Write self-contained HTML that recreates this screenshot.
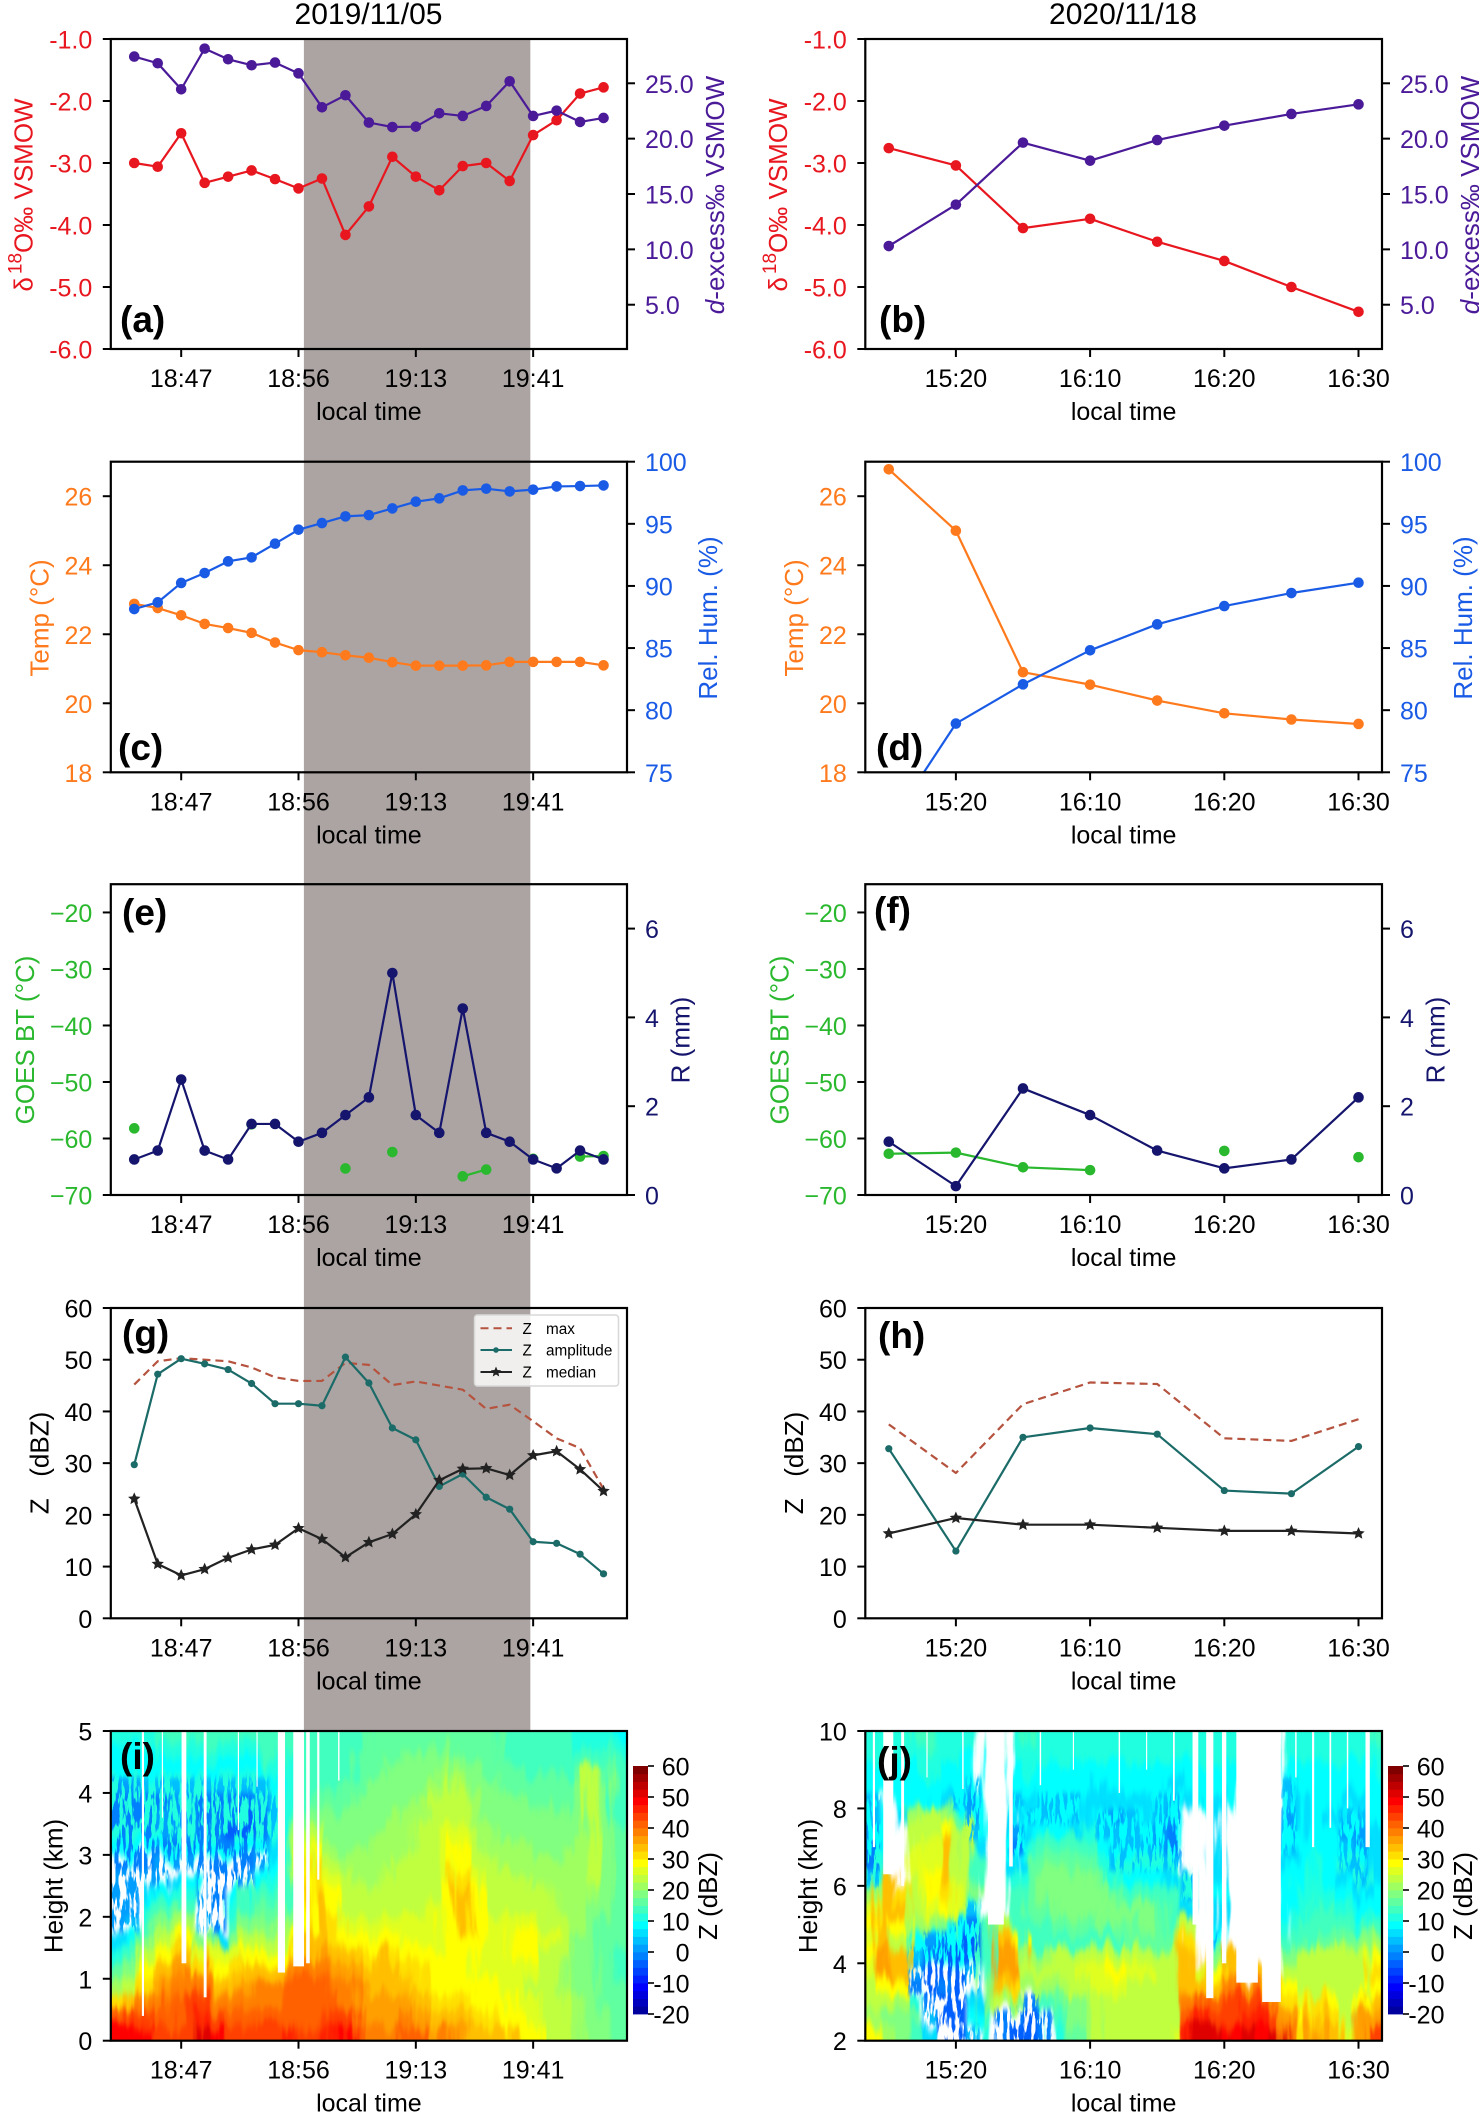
<!DOCTYPE html>
<html lang="en">
<head>
<meta charset="utf-8">
<title>Radar and isotope time series, 2019/11/05 and 2020/11/18</title>
<style>
html,body{margin:0;padding:0;background:#fff;}
svg{display:block;font-family:"Liberation Sans",Arial,sans-serif;}
</style>
</head>
<body>
<svg id="figure" xmlns="http://www.w3.org/2000/svg" width="1479" height="2113" viewBox="0 0 1479 2113">
  <rect x="0" y="0" width="1479" height="2113" fill="#fff"/>
  <text x="368.5" y="24" font-size="30" text-anchor="middle" fill="#000">2019/11/05</text>
  <text x="1123" y="24" font-size="30" text-anchor="middle" fill="#000">2020/11/18</text>
</svg>
<script>
/* ---------- category axes ---------- */
const ticksLeft = [2, 7, 12, 17];
const tickLabelsLeft = ["18:47", "18:56", "19:13", "19:41"];
const ticksRight = [1, 3, 5, 7];
const tickLabelsRight = ["15:20", "16:10", "16:20", "16:30"];
const shadedInterval = [7.23, 16.88];

/* ---------- series, event 2019/11/05 ---------- */
const d18oLeft = [-3.0,-3.06,-2.52,-3.32,-3.22,-3.12,-3.26,-3.41,-3.25,-4.16,-3.70,-2.90,-3.22,-3.44,-3.05,-3.0,-3.29,-2.55,-2.31,-1.88,-1.78];
const dexLeft = [27.41,26.81,24.46,28.13,27.17,26.63,26.87,25.9,22.83,23.92,21.45,21.05,21.08,22.29,22.05,22.95,25.18,22.05,22.53,21.51,21.87];
const tempLeft = [22.88,22.76,22.55,22.3,22.18,22.04,21.76,21.54,21.48,21.39,21.32,21.19,21.09,21.09,21.09,21.1,21.2,21.2,21.2,21.2,21.1];
const rhLeft = [88.14,88.68,90.24,91.04,91.98,92.3,93.4,94.53,95.06,95.6,95.7,96.24,96.78,97.05,97.69,97.83,97.61,97.75,98.01,98.04,98.09];
const goesLeft = [-58.2,null,null,null,null,-57.5,null,null,null,-65.3,null,-62.4,null,null,-66.7,-65.5,null,-63.6,null,-63.2,-63.1];
const rainLeft = [0.8,1.0,2.6,1.0,0.8,1.6,1.6,1.2,1.4,1.8,2.2,5.0,1.8,1.4,4.2,1.4,1.2,0.8,0.6,1.0,0.8];
const zMaxLeft = [45.2,49.7,50.3,50.0,49.7,48.5,46.6,45.9,45.9,49.4,49.0,45.1,45.8,45.0,44.2,40.5,41.3,38.1,34.8,32.9,25.0];
const zAmpLeft = [29.7,47.2,50.2,49.2,48.1,45.4,41.5,41.5,41.1,50.5,45.5,36.8,34.5,25.5,27.9,23.4,21.1,14.8,14.5,12.4,8.6];
const zMedLeft = [23.1,10.5,8.3,9.5,11.7,13.3,14.2,17.4,15.3,11.8,14.7,16.3,20.1,26.7,28.9,29.0,27.7,31.5,32.3,28.8,24.6];

/* ---------- series, event 2020/11/18 ---------- */
const d18oRight = [-2.76,-3.04,-4.05,-3.90,-4.27,-4.58,-5.0,-5.40];
const dexRight = [10.30,14.04,19.64,18.01,19.87,21.17,22.23,23.10];
const tempRight = [26.78,25.0,20.9,20.54,20.08,19.71,19.53,19.4];
const rhRight = [70.7,78.92,82.08,84.82,86.91,88.38,89.43,90.26];
const goesRight = [-62.7,-62.5,-65.1,-65.6,null,-62.2,null,-63.3];
const rainRight = [1.2,0.2,2.4,1.8,1.0,0.6,0.8,2.2];
const zMaxRight = [37.5,28.1,41.4,45.6,45.3,34.8,34.3,38.5];
const zAmpRight = [32.8,13.0,35.0,36.8,35.6,24.7,24.1,33.2];
const zMedRight = [16.4,19.4,18.1,18.1,17.5,16.9,16.9,16.4];

/* ---------- axis tick values ---------- */
const d18oTicks = [-1,-2,-3,-4,-5,-6];
const dexTicks = [5,10,15,20,25];
const tempTicks = [18,20,22,24,26];
const rhTicks = [75,80,85,90,95,100];
const goesTicks = [-20,-30,-40,-50,-60,-70];
const rainTicks = [0,2,4,6];
const zTicks = [0,10,20,30,40,50,60];
const heightTicksLeft = [0,1,2,3,4,5];
const heightTicksRight = [2,4,6,8,10];
const colorbarTicks = [-20,-10,0,10,20,30,40,50,60];

/* ---------- reflectivity grids (dBZ), top row = top of the height axis ---------- */
const n = null;
const heatLeft = [
[12,12,13,14,14,14,14,14,15,15,15,15,14,15,15,16,16,16,17,17,17,17,17,17,17,17,17,16,16,15,15,14,13,12,12,10],
[11,11,11,12,12,12,12,12,12,12,13,14,13,15,15,15,16,17,17,18,19,19,19,19,18,18,17,16,16,15,15,14,14,16,15,12],
[9,9,10,10,10,10,10,10,10,11,11,12,13,14,14,15,16,17,18,19,20,21,21,22,21,20,18,17,17,16,16,16,18,24,18,14],
[3,3,4,4,6,5,4,6,6,6,6,10,13,15,15,16,17,18,19,20,20,21,22,25,23,21,19,18,18,17,17,17,20,26,20,15],
[0,0,1,1,3,3,1,0,1,0,2,6,12,16,17,18,18,19,20,20,21,22,24,26,24,22,20,19,19,18,18,18,21,25,20,16],
[0,0,0,2,2,2,1,-1,-1,-2,1,6,12,18,20,19,19,20,21,21,22,22,24,26,26,23,21,20,20,19,19,19,21,24,20,16],
[0,0,1,2,2,2,1,-1,-2,-3,1,6,12,22,26,21,20,21,21,22,22,24,25,27,28,24,22,21,21,20,20,20,21,24,20,17],
[0,1,1,1,1,1,1,0,-1,0,2,7,12,26,30,23,21,21,22,23,23,25,26,27,29,25,23,22,22,21,21,21,22,25,21,17],
[1,1,1,2,3,2,1,0,1,1,3,10,12,28,33,25,22,22,22,23,24,25,25,27,30,26,24,23,23,22,22,22,23,25,21,18],
[2,2,2,3,8,9,3,1,1,2,10,13,14,30,33,27,24,23,23,24,24,25,25,28,33,28,25,24,24,23,23,23,23,24,20,18],
[2,2,7,10,12,13,3,1,11,14,15,16,16,30,34,29,25,24,24,24,25,25,26,30,35,29,26,25,25,25,24,23,23,22,20,18],
[2,3,12,15,17,16,3,1,13,16,17,18,16,30,35,31,26,25,25,25,25,26,27,31,36,29,26,26,26,26,25,23,22,21,19,18],
[3,4,16,20,22,22,5,1,16,20,21,22,20,30,35,32,28,27,27,27,27,27,28,31,34,29,27,27,27,28,26,24,22,20,18,17],
[8,10,20,26,28,30,20,8,20,24,25,26,30,34,36,33,31,30,31,30,28,27,27,29,31,29,27,27,29,30,27,24,21,19,17,17],
[13,16,24,31,33,35,28,28,28,29,30,30,34,36,37,35,34,33,34,33,30,30,29,30,29,28,27,28,30,30,26,24,21,19,17,16],
[17,21,29,36,38,39,33,31,32,34,35,36,39,40,40,37,37,35,35,34,33,32,30,29,29,28,28,28,28,27,25,23,21,19,18,16],
[23,26,33,38,40,41,40,35,35,37,39,41,42,42,42,40,39,37,36,36,35,33,31,31,30,29,29,28,27,26,25,23,21,19,18,17],
[33,35,39,41,43,44,44,41,39,41,41,41,42,43,43,42,41,38,37,37,37,35,33,33,32,31,30,29,28,27,26,24,22,20,18,17],
[42,44,44,42,42,45,47,44,42,42,42,42,43,43,43,44,45,40,38,38,40,38,35,36,35,33,32,31,30,28,26,24,22,20,19,18],
[49,50,50,46,45,46,52,50,46,45,46,46,47,46,46,47,49,42,39,39,42,42,38,39,37,36,35,34,30,29,26,24,22,21,19,18]
];
const heatRight = [
[13,12,13,14,14,13,13,12,n,n,13,14,13,13,13,13,13,13,13,13,13,13,13,12,12,13,n,n,n,13,13,13,13,13,13,14],
[12,12,12,13,13,12,12,11,n,n,12,13,12,12,12,12,12,12,12,12,12,12,12,12,12,12,n,n,n,12,12,12,12,12,12,13],
[11,11,11,12,12,11,10,9,n,n,11,12,11,11,11,11,10,11,11,11,11,10,10,11,11,11,n,n,n,10,11,11,11,11,11,12],
[9,10,10,11,11,10,9,6,n,n,9,10,10,9,9,9,8,9,9,9,9,7,9,10,10,10,n,n,n,5,9,10,10,10,10,11],
[6,n,9,10,9,8,6,3,n,n,6,7,5,6,5,7,7,7,7,7,6,5,8,9,8,9,n,n,n,5,8,9,9,8,7,10],
[6,n,8,22,24,22,18,3,n,n,7,5,6,5,4,8,6,3,6,7,5,2,n,n,7,n,n,n,n,3,8,9,8,6,4,9],
[3,n,n,25,26,30,24,5,n,n,3,8,10,9,8,12,6,6,5,5,3,0,n,n,7,n,n,n,n,3,8,10,9,3,2,8],
[1,n,n,26,27,34,24,8,n,n,1,12,14,15,15,14,9,6,5,5,2,0,n,n,8,n,n,n,n,5,9,11,10,5,3,8],
[1,n,n,27,28,36,26,14,n,n,8,17,17,18,18,17,12,6,5,5,6,4,n,n,7,n,n,n,n,7,10,12,10,6,5,8],
[5,34,n,27,30,36,26,16,n,n,12,18,19,19,19,19,17,12,11,10,11,7,6,n,8,n,n,n,n,9,11,12,11,8,6,7],
[22,36,32,26,30,32,28,20,n,n,16,18,19,20,20,19,19,17,16,16,15,14,6,n,9,n,n,n,n,10,12,13,12,10,8,9],
[28,34,34,26,28,29,28,5,n,n,15,17,18,19,20,21,21,20,19,19,18,16,8,n,7,n,n,n,n,11,13,14,14,12,10,10],
[30,36,30,22,22,20,6,-1,14,25,16,16,16,17,18,18,19,18,18,19,18,16,24,n,8,n,n,n,n,12,14,16,16,14,13,14],
[28,34,26,10,3,0,-2,-3,14,34,30,14,14,14,15,15,16,16,17,17,18,18,33,n,5,n,n,n,n,14,16,18,18,18,19,23],
[29,38,34,5,-1,-2,-3,-2,14,38,34,22,23,24,25,26,26,26,26,26,26,26,34,n,20,34,n,n,n,20,24,24,25,24,24,30],
[28,38,36,2,-2,-2,-3,4,16,38,38,24,24,25,26,27,28,29,27,27,26,25,36,28,30,36,n,36,n,25,26,26,25,24,24,32],
[25,29,29,1,-2,-1,-3,4,20,36,32,22,22,23,24,25,27,28,26,26,25,24,36,36,34,40,38,40,36,30,26,26,26,24,24,31],
[24,24,22,12,0,-3,-3,8,20,26,20,1,16,18,21,23,25,26,25,25,25,26,40,43,42,44,44,45,40,32,28,33,30,24,30,34],
[23,21,20,17,6,-2,-3,10,16,1,-1,-2,1,14,19,22,24,25,25,25,25,26,42,47,45,45,47,47,44,38,31,35,33,25,37,38],
[29,22,19,16,8,-2,-3,5,12,-1,-3,-3,-1,12,18,22,24,25,25,25,26,28,47,52,52,50,52,50,52,40,33,37,36,28,38,44]
];
/* background reflectivity beneath weak-echo streaks, per row; null means no echo between streaks */
const heatBackLeft = [n,n,n,12,12,12,12,11,n,n,n,n,n,n,n,n,n,n,n,n];
const heatBackRight = [n,n,n,11,11,11,11,11,12,12,12,12,11,11,11,n,n,n,n,n];
/* no-echo gaps: grid column, width in columns, lowest height reached (km) */
const gapColsLeft = [2.24,5.1,6.58,11.9,13.1,13.75,14.47,3.6,8.9,10.2,15.9];
const gapWidthsLeft = [0.15,0.33,0.2,0.5,0.75,0.25,0.15,0.08,0.08,0.08,0.1];
const gapBaseLeft = [0.4,1.25,0.7,1.1,1.2,1.25,2.6,3.6,3.4,4.1,4.2];
const gapColsRight = [0.6,1.6,2.6,9.1,10.15,23,24,25,26.6,28.3,31.2,35,4.3,6.8,12.2,14.5,17.7,19.6,21.5,30,32.4,33.6];
const gapWidthsRight = [0.15,0.7,0.2,1.1,0.25,0.4,0.5,0.3,1.5,1.3,0.15,0.3,0.08,0.1,0.1,0.08,0.1,0.08,0.12,0.1,0.12,0.1];
const gapBaseRight = [7,6.3,6,5,6.5,5,3.1,4,3.5,3,7,7,8.8,8.5,8.6,9,8.4,9,8.2,8.8,7.5,8];

/* ---------- layout ---------- */
const COL = {
  left: {L:110.8, R:627, xmin:-1, xmax:21, ticks:ticksLeft, labels:tickLabelsLeft},
  right:{L:865.3, R:1382, xmin:-0.35, xmax:7.35, ticks:ticksRight, labels:tickLabelsRight}
};
const ROW_T = [39, 461.7, 884.2, 1308, 1731];
const ROW_B = [349, 772.3, 1195, 1618.3, 2040.7];
const FS = 25;
const FS_TITLE = 26;
const COLORS = {red:"#e8161e", purple:"#4a1a98", orange:"#ff7a1c", blue:"#1a5be6", green:"#2ab82e", navy:"#15156e", teal:"#1b6b68", black:"#222222", brown:"#b5533f"};

const svg = document.getElementById("figure");
const NS = "http://www.w3.org/2000/svg";
let clipCount = 0;

function el(tag, attrs, parent) {
  const e = document.createElementNS(NS, tag);
  for (const k in attrs) e.setAttribute(k, attrs[k]);
  (parent || svg).appendChild(e);
  return e;
}
function scaleLinear(d0, d1, r0, r1) {
  return function (v) { return r0 + (v - d0) * (r1 - r0) / (d1 - d0); };
}

/* shaded band spanning rows a-g on the left column */
(function () {
  const c = COL.left;
  const x = scaleLinear(c.xmin, c.xmax, c.L, c.R);
  const band = el("rect", {x:x(shadedInterval[0]), y:39, width:x(shadedInterval[1]) - x(shadedInterval[0]), height:1692, fill:"#aca4a2"});
  
  
})();

function drawFrame(col, T, B) {
  const frame = el("rect", {x:col.L, y:T, width:col.R - col.L, height:B - T, fill:"none", stroke:"#000", "stroke-width":2.2});
  
  
  const x = scaleLinear(col.xmin, col.xmax, col.L, col.R);
  col.ticks.forEach(function (t, i) {
    const tick = el("line", {x1:x(t), x2:x(t), y1:B, y2:B + 8, stroke:"#000", "stroke-width":2});
    
    
    const lab = el("text", {x:x(t), y:B + 38, "font-size":FS, "text-anchor":"middle", fill:"#000"});
    lab.textContent = col.labels[i];
    
    
  });
  const title = el("text", {x:(col.L + col.R) / 2, y:B + 71, "font-size":FS, "text-anchor":"middle", fill:"#000"});
  title.textContent = "local time";
  
  
}

function drawYTicks(side, col, T, B, dmin, dmax, values, fmt, color) {
  const y = scaleLinear(dmin, dmax, B, T);
  values.forEach(function (v) {
    const x0 = side === "left" ? col.L : col.R;
    const x1 = side === "left" ? col.L - 8 : col.R + 8;
    const tick = el("line", {x1:x0, x2:x1, y1:y(v), y2:y(v), stroke:"#000", "stroke-width":2});
    
    
    const lab = el("text", {x: side === "left" ? col.L - 18.5 : col.R + 18, y:y(v) + 9.5, "font-size":FS, fill:color, "text-anchor": side === "left" ? "end" : "start"});
    lab.textContent = fmt(v);
    
    
  });
}

function yTitle(x, cy, color, parts, name) {
  const t = el("text", {transform:"translate(" + x + "," + cy + ") rotate(-90)", "font-size":FS_TITLE, fill:color, "text-anchor":"middle", "xml:space":"preserve"});
  parts.forEach(function (p) {
    const s = el("tspan", p.attrs || {}, t);
    s.textContent = p.text;
  });
  
  
}

function clipFor(col, T, B) {
  const id = "clip" + (clipCount++);
  const cp = el("clipPath", {id:id});
  el("rect", {x:col.L, y:T, width:col.R - col.L, height:B - T}, cp);
  return id;
}

function starPoints(cx, cy, outer, inner) {
  const pts = [];
  for (let k = 0; k < 10; k++) {
    const r = k % 2 ? inner : outer;
    const a = -Math.PI / 2 + k * Math.PI / 5;
    pts.push((cx + r * Math.cos(a)).toFixed(2) + "," + (cy + r * Math.sin(a)).toFixed(2));
  }
  return pts.join(" ");
}

function drawSeries(col, T, B, dmin, dmax, vals, opt, name) {
  const x = scaleLinear(col.xmin, col.xmax, col.L, col.R);
  const y = scaleLinear(dmin, dmax, B, T);
  const g = el("g", {"clip-path":"url(#" + clipFor(col, T, B) + ")"});
  
  
  let run = [];
  function flush() {
    if (run.length > 1) {
      const line = el("polyline", {points:run.join(" "), fill:"none", stroke:opt.color, "stroke-width":opt.lw || 2.2, "stroke-dasharray":opt.dash || "none", "stroke-linejoin":"round"}, g);
      
      
    }
    run = [];
  }
  vals.forEach(function (v, i) {
    if (v === null) { flush(); return; }
    run.push(x(i).toFixed(2) + "," + y(v).toFixed(2));
  });
  flush();
  vals.forEach(function (v, i) {
    if (v === null || opt.marker === "none") return;
    let m;
    if (opt.marker === "star") {
      m = el("polygon", {points:starPoints(x(i), y(v), 6.5, 3), fill:opt.color}, g);
    } else {
      m = el("circle", {cx:x(i), cy:y(v), r:opt.r || 5.3, fill:opt.color}, g);
    }
    
    
  });
}

function panelLabel(text, x, y) {
  const t = el("text", {x:x, y:y, "font-size":37, "font-weight":"bold", fill:"#000"});
  t.textContent = text;
  
  
}

const f1 = function (v) { return v.toFixed(1); };
const fi = function (v) { return String(v); };
const fm = function (v) { return String(v).replace("-", "\u2212"); };

function jetColor(v) {
  const q = Math.round(v / 2.5) * 2.5;
  const t = Math.max(0, Math.min(1, (q + 20) / 80));
  const cl = function (a) { return Math.round(255 * Math.max(0, Math.min(1, a))); };
  return "rgb(" + cl(Math.min(4 * t - 1.5, -4 * t + 4.5)) + "," + cl(Math.min(4 * t - 0.5, -4 * t + 3.5)) + "," + cl(Math.min(4 * t + 0.5, -4 * t + 2.5)) + ")";
}

function drawHeat(col, T, B, ymin, ymax, grid, back, gapCols, gapWidths, gapBase, key) {
  const defs = el("defs", {});
  const region = {filterUnits:"userSpaceOnUse", x:col.L - 40, y:T - 40, width:col.R - col.L + 80, height:B - T + 80, "color-interpolation-filters":"sRGB"};
  const blur = el("filter", Object.assign({id:"blur-" + key}, region), defs);
  el("feTurbulence", {type:"fractalNoise", baseFrequency:"0.09 0.010", numOctaves:3, seed:key === "left" ? 7 : 12, result:"streak"}, blur);
  el("feGaussianBlur", {"in":"SourceGraphic", stdDeviation:"2.5 4", result:"soft"}, blur);
  el("feDisplacementMap", {"in":"soft", in2:"streak", scale:34, xChannelSelector:"R", yChannelSelector:"G"}, blur);
  const sp = el("filter", Object.assign({id:"speckle-" + key}, region), defs);
  el("feTurbulence", {type:"fractalNoise", baseFrequency:"0.25 0.04", numOctaves:3, seed:key === "left" ? 4 : 9, result:"noise"}, sp);
  el("feColorMatrix", {"in":"noise", type:"matrix", values:"0 0 0 0 0  0 0 0 0 0  0 0 0 0 0  14 0 0 0 -6.6", result:"mask"}, sp);
  el("feGaussianBlur", {"in":"SourceGraphic", stdDeviation:"1.5 3", result:"soft"}, sp);
  el("feComposite", {"in":"soft", in2:"mask", operator:"in"}, sp);

  const root = el("g", {"clip-path":"url(#" + clipFor(col, T, B) + ")"});
  
  
  const base = el("g", {filter:"url(#blur-" + key + ")"}, root);
  const low = el("g", {filter:"url(#speckle-" + key + ")"}, root);
  const rows = grid.length;
  const cols = grid[0].length;
  const cw = (col.R - col.L) / cols;
  const ch = (B - T) / rows;
  grid.forEach(function (row, r) {
    row.forEach(function (v, c) {
      if (v === null) return;
      const padL = c === 0 ? 30 : 0;
      const padR = c === cols - 1 ? 30 : 0;
      const padT = r === 0 ? 30 : 0;
      const padB = r === rows - 1 ? 30 : 0;
      const geom = {
        x:col.L + c * cw - padL, y:T + r * ch - padT,
        width:cw + padL + padR + 0.5, height:ch + padT + padB + 0.5
      };
      if (v <= 6 && back[r] !== null) {
        const under = el("rect", Object.assign({fill:jetColor(back[r])}, geom), base);
        
        
      }
      const cell = el("rect", Object.assign({fill:jetColor(v)}, geom), v <= 6 ? low : base);
      
      
    });
  });
  const y = scaleLinear(ymin, ymax, B, T);
  gapCols.forEach(function (c, i) {
    const gap = el("rect", {x:col.L + (c - gapWidths[i] / 2) * cw, y:T, width:gapWidths[i] * cw, height:y(gapBase[i]) - T, fill:"#fff"}, root);
    
    
  });
}

function drawColorbar(col) {
  const x0 = col.R + 6, x1 = col.R + 21, top = 1766, bottom = 2014;
  const y = scaleLinear(-20, 60, bottom, top);
  const g = el("g", {});
  
  
  for (let v = -20; v < 60; v += 2.5) {
    const s = el("rect", {x:x0, y:y(v + 2.5), width:x1 - x0, height:y(v) - y(v + 2.5) + 0.4, fill:jetColor(v + 1.25)}, g);
    
    
  }
  colorbarTicks.forEach(function (v) {
    const tick = el("line", {x1:x1, x2:x1 + 6, y1:y(v), y2:y(v), stroke:"#000", "stroke-width":1.6}, g);
    
    
    const lab = el("text", {x:col.R + 62.5, y:y(v) + 9.5, "font-size":FS, "text-anchor":"end", fill:"#000"}, g);
    lab.textContent = String(v);
    
    
  });
  yTitle(col.R + 90, 1896, "#000", [{text:"Z (dBZ)"}], "colorbar-title");
}

/* ---------- build all panels ---------- */
function isotopePanel(col, d18o, dex, label, lx) {
  const T = ROW_T[0], B = ROW_B[0];
  drawSeries(col, T, B, -6, -1, d18o, {color:COLORS.red}, "delta18o");
  drawSeries(col, T, B, 1, 29, dex, {color:COLORS.purple}, "d-excess");
  drawFrame(col, T, B);
  drawYTicks("left", col, T, B, -6, -1, d18oTicks, f1, COLORS.red);
  drawYTicks("right", col, T, B, 1, 29, dexTicks, f1, COLORS.purple);
  yTitle(col.L - 78.5, 195, COLORS.red, [{text:"\u03b4"},{text:"18",attrs:{"font-size":19,dy:-11,dx:3}},{text:"O\u2030 VSMOW",attrs:{dy:11}}], "delta18o-axis-title");
  yTitle(col.R + 97, 195, COLORS.purple, [{text:"d",attrs:{"font-style":"italic"}},{text:"-excess\u2030 VSMOW"}], "d-excess-axis-title");
  panelLabel(label, lx, 332);
}
function metPanel(col, temp, rh, label, lx) {
  const T = ROW_T[1], B = ROW_B[1];
  drawSeries(col, T, B, 18, 27, temp, {color:COLORS.orange}, "temperature");
  drawSeries(col, T, B, 75, 100, rh, {color:COLORS.blue}, "relative-humidity");
  drawFrame(col, T, B);
  drawYTicks("left", col, T, B, 18, 27, tempTicks, fi, COLORS.orange);
  drawYTicks("right", col, T, B, 75, 100, rhTicks, fi, COLORS.blue);
  yTitle(col.L - 62.5, 618, COLORS.orange, [{text:"Temp (\u00b0C)"}], "temperature-axis-title");
  yTitle(col.R + 90, 618, COLORS.blue, [{text:"Rel. Hum. (%)"}], "humidity-axis-title");
  panelLabel(label, lx, 760);
}
function rainPanel(col, goes, rain, label, lx, ly) {
  const T = ROW_T[2], B = ROW_B[2];
  drawSeries(col, T, B, -70, -15, goes, {color:COLORS.green}, "goes-brightness-temperature");
  drawSeries(col, T, B, 0, 7, rain, {color:COLORS.navy}, "rainfall");
  drawFrame(col, T, B);
  drawYTicks("left", col, T, B, -70, -15, goesTicks, fm, COLORS.green);
  drawYTicks("right", col, T, B, 0, 7, rainTicks, fi, COLORS.navy);
  yTitle(col.L - 77, 1040, COLORS.green, [{text:"GOES BT (\u00b0C)"}], "goes-axis-title");
  yTitle(col.R + 62.6, 1040, COLORS.navy, [{text:"R (mm)"}], "rainfall-axis-title");
  panelLabel(label, lx, ly);
}
function zPanel(col, zmax, zamp, zmed, label, lx, ly) {
  const T = ROW_T[3], B = ROW_B[3];
  drawSeries(col, T, B, 0, 60, zmax, {color:COLORS.brown, dash:"8 5", marker:"none"}, "z-max");
  drawSeries(col, T, B, 0, 60, zamp, {color:COLORS.teal, r:3.6}, "z-amplitude");
  drawSeries(col, T, B, 0, 60, zmed, {color:COLORS.black, marker:"star"}, "z-median");
  drawFrame(col, T, B);
  drawYTicks("left", col, T, B, 0, 60, zTicks, fi, "#000");
  yTitle(col.L - 62.5, 1463, "#000", [{text:"Z\u00a0\u00a0\u00a0(dBZ)"}], "z-axis-title");
  panelLabel(label, lx, ly);
}
function heatPanel(col, ymin, ymax, yticks, grid, back, gc, gw, gb, key, label, lx, ly) {
  const T = ROW_T[4], B = ROW_B[4];
  drawHeat(col, T, B, ymin, ymax, grid, back, gc, gw, gb, key);
  drawFrame(col, T, B);
  drawYTicks("left", col, T, B, ymin, ymax, yticks, fi, "#000");
  yTitle(col.L - 48.5, 1886, "#000", [{text:"Height (km)"}], "height-axis-title");
  panelLabel(label, lx, ly);
  drawColorbar(col);
}

isotopePanel(COL.left, d18oLeft, dexLeft, "(a)", 120);
isotopePanel(COL.right, d18oRight, dexRight, "(b)", 879);
metPanel(COL.left, tempLeft, rhLeft, "(c)", 118);
metPanel(COL.right, tempRight, rhRight, "(d)", 876);
rainPanel(COL.left, goesLeft, rainLeft, "(e)", 122, 925);
rainPanel(COL.right, goesRight, rainRight, "(f)", 874, 923);
zPanel(COL.left, zMaxLeft, zAmpLeft, zMedLeft, "(g)", 122, 1346);
zPanel(COL.right, zMaxRight, zAmpRight, zMedRight, "(h)", 878, 1348);
heatPanel(COL.left, 0, 5, heightTicksLeft, heatLeft, heatBackLeft, gapColsLeft, gapWidthsLeft, gapBaseLeft, "left", "(i)", 120, 1769);
heatPanel(COL.right, 2, 10, heightTicksRight, heatRight, heatBackRight, gapColsRight, gapWidthsRight, gapBaseRight, "right", "(j)", 877, 1773);

/* ---------- legend in panel g ---------- */
(function () {
  const lg = el("g", {});
  
  
  const box = el("rect", {x:474.5, y:1315, width:144, height:71, rx:3, fill:"rgba(255,255,255,0.82)", stroke:"#d8d8d8", "stroke-width":1.5}, lg);
  
  
  const legendRows = [
    {word:"max", y:1328.3, color:COLORS.brown, dash:"8 5", mark:"none"},
    {word:"amplitude", y:1350, color:COLORS.teal, dash:"none", mark:"circle"},
    {word:"median", y:1372, color:COLORS.black, dash:"none", mark:"star"}
  ];
  legendRows.forEach(function (e) {
    const line = el("line", {x1:480.5, x2:512, y1:e.y, y2:e.y, stroke:e.color, "stroke-width":2, "stroke-dasharray":e.dash}, lg);
    
    
    if (e.mark === "circle") {
      const dot = el("circle", {cx:496, cy:e.y, r:2.8, fill:e.color}, lg);
      
      
    }
    if (e.mark === "star") {
      const st = el("polygon", {points:starPoints(496, e.y, 5.5, 2.5), fill:e.color}, lg);
      
      
    }
    const z = el("text", {x:522.5, y:e.y + 5.5, "font-size":15.3, fill:"#000"}, lg);
    z.textContent = "Z";
    
    
    const w = el("text", {x:546, y:e.y + 5.5, "font-size":15.3, fill:"#000"}, lg);
    w.textContent = e.word;
    
    
  });
})();
</script>
</body>
</html>
